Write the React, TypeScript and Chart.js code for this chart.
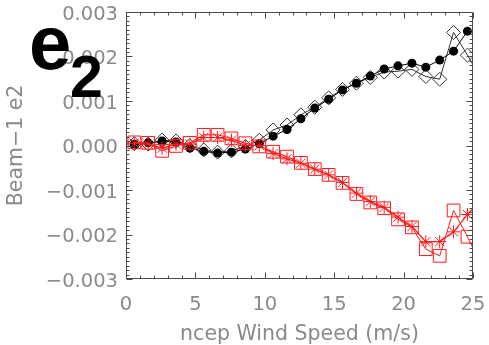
import { useEffect, useRef } from "react";
import { Chart, registerables } from "chart.js";

Chart.register(...registerables);

// Bin centres of the wind-speed histogram (m/s); the last bin lies just past the axis end.
const windSpeed = [
  0.6, 1.6, 2.6, 3.6, 4.6, 5.6, 6.6, 7.6, 8.6, 9.6, 10.6, 11.6, 12.6,
  13.6, 14.6, 15.6, 16.6, 17.6, 18.6, 19.6, 20.6, 21.6, 22.6, 23.6, 24.6, 25.6,
];

// Beam-1 e2 per wind-speed bin, four configurations.
const e2Filled = [
  0.00003, 0.00006, 0.0001, 0.00008, -0.00006, -0.00013, -0.00017, -0.00015,
  -0.00008, 0.00004, 0.00021, 0.00036, 0.0006, 0.00084, 0.00104, 0.00125,
  0.0014, 0.00156, 0.00172, 0.00179, 0.00185, 0.00176, 0.00192, 0.00212, 0.00257,
];
const e2Diamond = [
  0.00004, 0.00003, 0.00012, 0.0001, 0.0, -0.0001, -0.00015, -0.00012,
  -0.00002, 0.00012, 0.00035, 0.00046, 0.00069, 0.00086, 0.00107, 0.00126,
  0.0014, 0.00153, 0.00165, 0.00167, 0.00171, 0.00155, 0.00149, 0.00254,
  0.00203, 0.0015,
];
const e2Star = [
  0.00005, 0.00003, -0.00006, 0.00003, 0.00003, 0.00018, 0.00018, 0.00012,
  0.0, 0.0, -0.00018, -0.0003, -0.0004, -0.00053, -0.00066, -0.00083,
  -0.00107, -0.00126, -0.00139, -0.00161, -0.00182, -0.00216, -0.00216,
  -0.00194, -0.00155, -0.00122,
];
const e2Square = [
  0.00007, 0.00006, -0.00012, -0.00001, 0.00006, 0.00024, 0.00024, 0.00016,
  0.00005, -0.00002, -0.00014, -0.00025, -0.00039, -0.00053, -0.00066,
  -0.00084, -0.00109, -0.00128, -0.00141, -0.00166, -0.00184, -0.00233,
  -0.00248, -0.00146, -0.00205, -0.0027,
];

const xRange = [0, 25];
const yRange = [-0.003, 0.003];
const xMajorStep = 5;
const xMinorStep = 1;
const yMajorStep = 0.001;
const yMinorDivisions = 10;

const xTitle = "ncep Wind Speed (m/s)";
const yTitle = "Beam\u22121 e2";
const panelLetter = "e";
const panelSub = "2";

const AXIS = "#4a4a4a";
const TEXT = "#8a8a8a";
const RED = "#ff1a1a";
const FONT = '"DejaVu Sans", sans-serif';

const toPoints = (ys: number[]) => ys.map((y, i) => ({ x: windSpeed[i], y }));

const fmtY = (v: number) => {
  const r = Math.abs(v) < 1e-9 ? 0 : v;
  const s = Math.abs(r).toFixed(3);
  return r < 0 ? "\u2212" + s : s;
};

// Closed frame with inward major/minor tick marks on all four sides.
const framePlugin = {
  id: "frame",
  afterDatasetsDraw(chart: any) {
    const { ctx, chartArea, scales } = chart;
    const { left, right, top, bottom } = chartArea;
    const xs = scales.x;
    const ys = scales.y;
    ctx.save();
    ctx.strokeStyle = AXIS;
    ctx.lineWidth = 1;
    const L = Math.round(left) + 0.5;
    const R = Math.round(right) - 0.5;
    const T = Math.round(top) + 0.5;
    const B = Math.round(bottom) - 0.5;
    ctx.beginPath();
    ctx.rect(L, T, R - L, B - T);
    ctx.stroke();
    ctx.beginPath();
    const nx = Math.round((xRange[1] - xRange[0]) / xMinorStep);
    for (let i = 0; i <= nx; i++) {
      const v = xRange[0] + i * xMinorStep;
      const px = Math.round(xs.getPixelForValue(v)) + 0.5;
      const len = Math.abs(v % xMajorStep) < 1e-9 ? 6 : 3;
      ctx.moveTo(px, B);
      ctx.lineTo(px, B - len);
      ctx.moveTo(px, T);
      ctx.lineTo(px, T + len);
    }
    const yMinor = yMajorStep / yMinorDivisions;
    const ny = Math.round((yRange[1] - yRange[0]) / yMinor);
    for (let i = 0; i <= ny; i++) {
      const v = yRange[0] + i * yMinor;
      const py = Math.round(ys.getPixelForValue(v)) + 0.5;
      const len = i % yMinorDivisions === 0 ? 6 : 3;
      ctx.moveTo(L, py);
      ctx.lineTo(L + len, py);
      ctx.moveTo(R, py);
      ctx.lineTo(R - len, py);
    }
    ctx.stroke();
    ctx.restore();
  },
  afterDraw(chart: any) {
    const { ctx } = chart;
    ctx.save();
    ctx.fillStyle = "#000";
    ctx.textBaseline = "alphabetic";
    ctx.font = 'bold 76px "Liberation Sans", Arial, sans-serif';
    ctx.fillText(panelLetter, 29, 69);
    ctx.font = 'bold 59px "Liberation Sans", Arial, sans-serif';
    ctx.fillText(panelSub, 70, 97);
    ctx.restore();
  },
};

const noEdgePadding = (s: any) => {
  s.paddingLeft = 0;
  s.paddingRight = 0;
  s.paddingTop = 0;
  s.paddingBottom = 0;
};

export default function App() {
  const ref = useRef<HTMLCanvasElement | null>(null);

  useEffect(() => {
    const canvas = ref.current;
    if (!canvas) return;
    const chart = new Chart(canvas, {
      type: "line",
      data: {
        datasets: [
          {
            data: toPoints(e2Filled),
            borderColor: "#000",
            borderWidth: 1,
            pointStyle: "circle",
            pointRadius: 4.5,
            pointBackgroundColor: "#000",
            pointBorderColor: "#000",
            pointBorderWidth: 0,
            order: 3,
          },
          {
            data: toPoints(e2Diamond),
            borderColor: "#333",
            borderWidth: 1,
            pointStyle: "rectRot",
            pointRadius: 7,
            pointBackgroundColor: "rgba(0,0,0,0)",
            pointBorderColor: "#333",
            pointBorderWidth: 1,
            order: 4,
          },
          {
            data: toPoints(e2Square),
            borderColor: RED,
            borderWidth: 1,
            pointStyle: "rect",
            pointRadius: 9,
            pointBackgroundColor: "rgba(0,0,0,0)",
            pointBorderColor: RED,
            pointBorderWidth: 1,
            order: 2,
          },
          {
            data: toPoints(e2Star),
            borderColor: RED,
            borderWidth: 1.2,
            pointStyle: "star",
            pointRadius: 6.5,
            pointBackgroundColor: RED,
            pointBorderColor: RED,
            pointBorderWidth: 1,
            order: 1,
          },
        ],
      },
      options: {
        animation: false,
        responsive: false,
        events: [],
        layout: { padding: { left: 0, right: 16, top: 12, bottom: 0 } },
        plugins: { legend: { display: false }, tooltip: { enabled: false } },
        elements: { line: { tension: 0 } },
        scales: {
          x: {
            type: "linear",
            min: xRange[0],
            max: xRange[1],
            grid: { display: false, drawTicks: false },
            border: { display: false },
            ticks: {
              stepSize: xMajorStep,
              padding: 14,
              color: TEXT,
              font: { family: FONT, size: 19.5 },
              maxRotation: 0,
              autoSkip: false,
              callback: (v: any) => String(Math.round(Number(v))),
            },
            title: {
              display: true,
              text: xTitle,
              color: TEXT,
              font: { family: FONT, size: 20.5 },
              padding: { top: 0, bottom: -2 },
            },
            afterFit: (s: any) => {
              s.height = 66;
              noEdgePadding(s);
            },
          },
          y: {
            type: "linear",
            min: yRange[0],
            max: yRange[1],
            grid: { display: false, drawTicks: false },
            border: { display: false },
            ticks: {
              stepSize: yMajorStep,
              padding: 8,
              labelOffset: 2.5,
              color: TEXT,
              font: { family: FONT, size: 19.5 },
              autoSkip: false,
              callback: (v: any) => fmtY(Number(v)),
            },
            title: {
              display: true,
              text: yTitle,
              color: TEXT,
              font: { family: FONT, size: 20.5 },
              padding: { top: 4, bottom: 0 },
            },
            afterFit: (s: any) => {
              s.width = 126;
              noEdgePadding(s);
            },
          },
        },
      },
      plugins: [framePlugin],
    });
    return () => chart.destroy();
  }, []);

  return (
    <div style={{ position: "fixed", left: 0, top: 0, width: 489, height: 345, background: "#fff" }}>
      <canvas ref={ref} width={489} height={345} style={{ width: 489, height: 345, display: "block" }} />
    </div>
  );
}
